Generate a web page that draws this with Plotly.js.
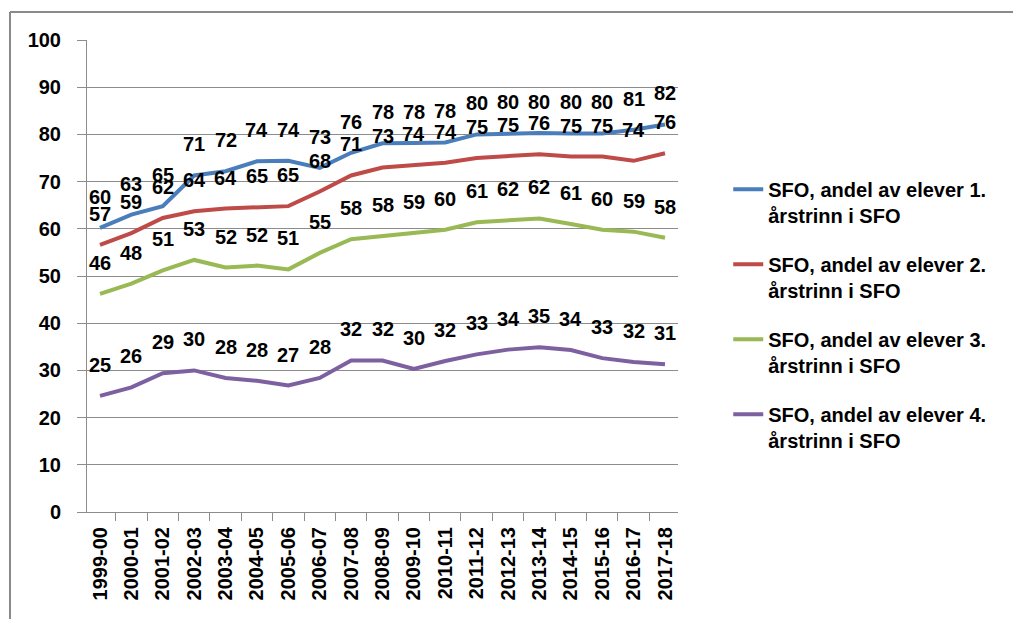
<!DOCTYPE html>
<html>
<head>
<meta charset="utf-8">
<script src="https://cdn.plot.ly/plotly-3.0.1.min.js"></script>
<style>
  html, body { margin: 0; padding: 0; background: #fff; }
  #chart { width: 1013px; height: 619px; }
</style>
</head>
<body>
<div id="chart"></div>
<script>
const years = ["1999-00","2000-01","2001-02","2002-03","2003-04","2004-05","2005-06","2006-07","2007-08","2008-09","2009-10","2010-11","2011-12","2012-13","2013-14","2014-15","2015-16","2016-17","2017-18"];
const grade1 = [60.2,63.0,64.8,71.3,72.2,74.3,74.4,72.9,76.1,78.1,78.2,78.3,80.0,80.2,80.3,80.2,80.2,81.0,82.1];
const grade2 = [56.6,59.1,62.3,63.7,64.3,64.6,64.8,67.9,71.3,73.0,73.6,74.0,75.0,75.4,75.8,75.3,75.3,74.4,76.0];
const grade3 = [46.2,48.4,51.2,53.4,51.8,52.2,51.4,54.9,57.8,58.4,59.1,59.8,61.4,61.8,62.2,61.0,59.8,59.4,58.1];
const grade4 = [24.6,26.4,29.4,30.0,28.4,27.8,26.8,28.4,32.1,32.1,30.3,32.0,33.4,34.4,34.9,34.3,32.6,31.8,31.3];
const seriesNames = [
  "SFO, andel av elever 1.<br>årstrinn i SFO",
  "SFO, andel av elever 2.<br>årstrinn i SFO",
  "SFO, andel av elever 3.<br>årstrinn i SFO",
  "SFO, andel av elever 4.<br>årstrinn i SFO"
];
const seriesColors = ["#4A7EBB", "#BE4B48", "#98B954", "#7D60A0"];
const allSeries = [grade1, grade2, grade3, grade4];

const FONT = "Liberation Sans, Arial, sans-serif";
const FS = 20;

const traces = allSeries.map((vals, i) => ({
  type: "scatter",
  mode: "lines",
  x: years,
  y: vals,
  name: seriesNames[i],
  legendgroup: "g" + i,
  line: { color: seriesColors[i], width: 4 },
  hoverinfo: "x+y"
}));

const annotations = [];
allSeries.forEach((vals) => {
  vals.forEach((v, j) => {
    annotations.push({
      x: years[j], y: v, xref: "x", yref: "y",
      text: String(Math.round(v)),
      showarrow: false,
      yshift: 31,
      font: { family: FONT, size: FS, color: "#000", weight: "bold" }
    });
  });
});

const gridC = "#8c8c8c";

const layout = {
  width: 1013, height: 619,
  margin: { l: 87, r: 335, t: 40, b: 107 },
  paper_bgcolor: "#fff",
  plot_bgcolor: "#fff",
  font: { family: FONT, size: FS, color: "#000", weight: "bold" },
  showlegend: true,
  legend: {
    x: 1.085, xanchor: "left",
    y: 0.725, yanchor: "top",
    valign: "top",
    tracegroupgap: 20,
    font: { family: FONT, size: FS, color: "#000", weight: "bold" },
    bgcolor: "rgba(0,0,0,0)"
  },
  xaxis: {
    type: "category",
    showgrid: false,
    showline: true, linecolor: gridC, linewidth: 1,
    ticks: "outside", tickson: "boundaries", ticklen: 8, tickcolor: gridC,
    tickangle: -90,
    tickfont: { family: FONT, size: FS, color: "#000", weight: "bold" },
    ticklabelstandoff: 6,
    zeroline: false,
    fixedrange: true
  },
  yaxis: {
    range: [0, 100],
    dtick: 10,
    showgrid: true, gridcolor: gridC, gridwidth: 1,
    showline: true, linecolor: gridC, linewidth: 1,
    ticks: "outside", ticklen: 9, tickcolor: gridC,
    tickfont: { family: FONT, size: FS, color: "#000", weight: "bold" },
    ticklabelstandoff: 12,
    zeroline: false,
    fixedrange: true
  },
  annotations: annotations,
  shapes: [
    { type: "line", xref: "paper", yref: "paper", x0: -0.1303, x1: 1.57, y0: 1.0593, y1: 1.0593, line: { color: "#8a8a8a", width: 2 } },
    { type: "line", xref: "paper", yref: "paper", x0: -0.1303, x1: -0.1303, y0: 1.0593, y1: -0.24, line: { color: "#8a8a8a", width: 2 } }
  ]
};

Plotly.newPlot("chart", traces, layout, { displayModeBar: false, staticPlot: true });
</script>
</body>
</html>
